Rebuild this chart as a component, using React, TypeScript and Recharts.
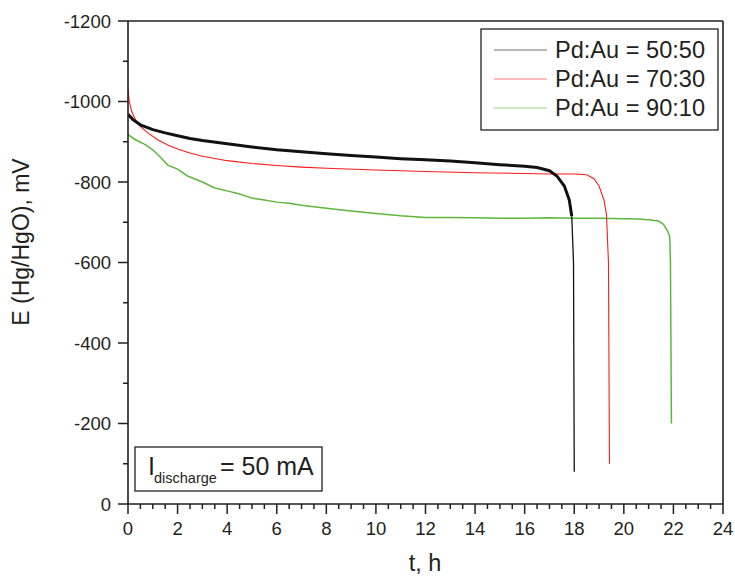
import React from "react";
import { LineChart, Line, XAxis, YAxis, ReferenceLine } from "recharts";

// Time (h) and potential (mV) readings
const tBlack = [0, 0.2, 0.5, 1, 1.5, 2, 2.5, 3, 4, 5, 6, 7, 8, 9, 10, 11, 12, 13, 14, 15, 16, 16.5, 17, 17.3, 17.6, 17.8, 17.9, 17.97, 18.0];
const eBlack = [-968, -955, -942, -930, -922, -915, -908, -903, -895, -887, -880, -875, -870, -866, -862, -858, -855, -852, -848, -843, -839, -836, -828, -815, -790, -755, -715, -600, -80];

const tRed = [0, 0.05, 0.15, 0.3, 0.5, 0.8, 1.2, 1.6, 2, 2.5, 3, 4, 5, 6, 7, 8, 10, 12, 14, 16, 17, 18, 18.5, 18.8, 19.0, 19.2, 19.3, 19.38, 19.42];
const eRed = [-1030, -1000, -975, -955, -938, -922, -905, -892, -882, -872, -864, -853, -846, -841, -837, -834, -830, -826, -823, -821, -820, -820, -818, -808, -790, -755, -720, -600, -100];

const tGreen = [0, 0.3, 0.7, 1, 1.3, 1.6, 2, 2.4, 3, 3.5, 4, 4.5, 5, 5.5, 6, 6.5, 7, 8, 9, 10, 11, 12, 13, 14, 15, 16, 17, 18, 19, 20, 20.5, 21, 21.4, 21.6, 21.75, 21.85, 21.88, 21.92];
const eGreen = [-918, -905, -893, -880, -862, -842, -832, -815, -800, -785, -778, -770, -760, -755, -750, -747, -742, -735, -728, -722, -716, -712, -712, -711, -710, -710, -711, -710, -710, -709, -708, -706, -703, -695, -680, -665, -600, -200];

const seriesNames = ["Pd:Au = 50:50", "Pd:Au = 70:30", "Pd:Au = 90:10"];
const seriesColors = ["#111111", "#ff1a1a", "#5cb83c"];

const xTicks: number[] = [];
for (let i = 0; i <= 48; i++) xTicks.push(i * 0.5);
const yTicks: number[] = [];
for (let i = -12; i <= 0; i++) yTicks.push(i * 100);

const toData = (t: number[], e: number[]) => t.map((tt, i) => ({ t: tt, e: e[i] }));
const dataBlack = toData(tBlack, eBlack);
// noisy plateau part (drawn thicker) and the final steep drop (thin)
const blackSplit = 26;
const dataBlackPlateau = dataBlack.slice(0, blackSplit + 1);
const dataBlackDrop = dataBlack.slice(blackSplit);
const dataRed = toData(tRed, eRed);
const dataGreen = toData(tGreen, eGreen);

const INK = "#231f20";
const FONT = "'Liberation Sans', Arial, sans-serif";

const XTick = (props: any) => {
  const { x, y, payload } = props;
  const v = payload.value as number;
  const major = Math.abs(v % 2) < 1e-9;
  return (
    <g>
      <line x1={x} y1={y} x2={x} y2={y + (major ? 10 : 5)} stroke={INK} strokeWidth={1.5} />
      {major && (
        <text x={x} y={y + 18} dy="0.71em" textAnchor="middle" fontSize={18.5} fill={INK} fontFamily={FONT}>
          {v}
        </text>
      )}
    </g>
  );
};

const YTick = (props: any) => {
  const { x, y, payload } = props;
  const v = payload.value as number;
  const major = Math.abs(v % 200) < 1e-9;
  return (
    <g>
      <line x1={x - (major ? 10 : 5)} y1={y} x2={x} y2={y} stroke={INK} strokeWidth={1.5} />
      {major && (
        <text x={x - 17} y={y} dy="0.355em" textAnchor="end" fontSize={18.5} fill={INK} fontFamily={FONT}>
          {String(v)}
        </text>
      )}
    </g>
  );
};

export default function App() {
  const legendBaselines = [58, 87, 116];
  return (
    <div style={{ position: "absolute", left: 0, top: 0, width: 735, height: 576, background: "#fff" }}>
      <LineChart width={735} height={576} margin={{ top: 21, right: 12, bottom: 0, left: 0 }}>
        <XAxis
          dataKey="t"
          type="number"
          domain={[0, 24]}
          ticks={xTicks}
          interval={0}
          allowDataOverflow
          height={72}
          tickSize={0}
          tickMargin={0}
          tickLine={false}
          tick={XTick}
          axisLine={{ stroke: INK, strokeWidth: 1.6 }}
        />
        <YAxis
          type="number"
          domain={[-1200, 0]}
          reversed
          ticks={yTicks}
          interval={0}
          allowDataOverflow
          width={128}
          tickSize={0}
          tickMargin={0}
          tickLine={false}
          tick={YTick}
          axisLine={{ stroke: INK, strokeWidth: 1.6 }}
        />
        <ReferenceLine y={-1200} stroke={INK} strokeWidth={1.6} />
        <ReferenceLine x={24} stroke={INK} strokeWidth={1.6} />
        <Line data={dataGreen} dataKey="e" stroke={seriesColors[2]} strokeWidth={1.5} dot={false} isAnimationActive={false} />
        <Line data={dataRed} dataKey="e" stroke={seriesColors[1]} strokeWidth={1.1} dot={false} isAnimationActive={false} />
        <Line data={dataBlackDrop} dataKey="e" stroke={seriesColors[0]} strokeWidth={1.3} dot={false} isAnimationActive={false} />
        <Line data={dataBlackPlateau} dataKey="e" stroke={seriesColors[0]} strokeWidth={3} dot={false} isAnimationActive={false} />
      </LineChart>
      <svg width={735} height={576} style={{ position: "absolute", left: 0, top: 0, pointerEvents: "none" }}>
        <text x={425} y={571} textAnchor="middle" fontSize={23.5} fill={INK} fontFamily={FONT}>t, h</text>
        <text x={29} y={242} transform="rotate(-90 29 242)" textAnchor="middle" fontSize={23} fill={INK} fontFamily={FONT}>
          E (Hg/HgO), mV
        </text>
        <rect x={481} y={29} width={237} height={101} fill="#fff" stroke={INK} strokeWidth={1.3} />
        {legendBaselines.map((by, i) => (
          <g key={i}>
            <line x1={494} x2={547} y1={by - 8} y2={by - 8} stroke={seriesColors[i]} strokeWidth={1} opacity={0.6} />
            <text x={555} y={by} fontSize={24.5} textLength={150} lengthAdjust="spacingAndGlyphs" fill={INK} fontFamily={FONT}>
              {seriesNames[i]}
            </text>
          </g>
        ))}
        <rect x={135} y={447} width={187} height={44} fill="#fff" stroke={INK} strokeWidth={1.3} />
        <text x={148} y={475} fontSize={25} fill={INK} fontFamily={FONT}>I</text>
        <text x={154} y={483} fontSize={14.5} fill={INK} fontFamily={FONT}>discharge</text>
        <text x={220} y={475} fontSize={25} fill={INK} fontFamily={FONT}>= 50 mA</text>
      </svg>
    </div>
  );
}
